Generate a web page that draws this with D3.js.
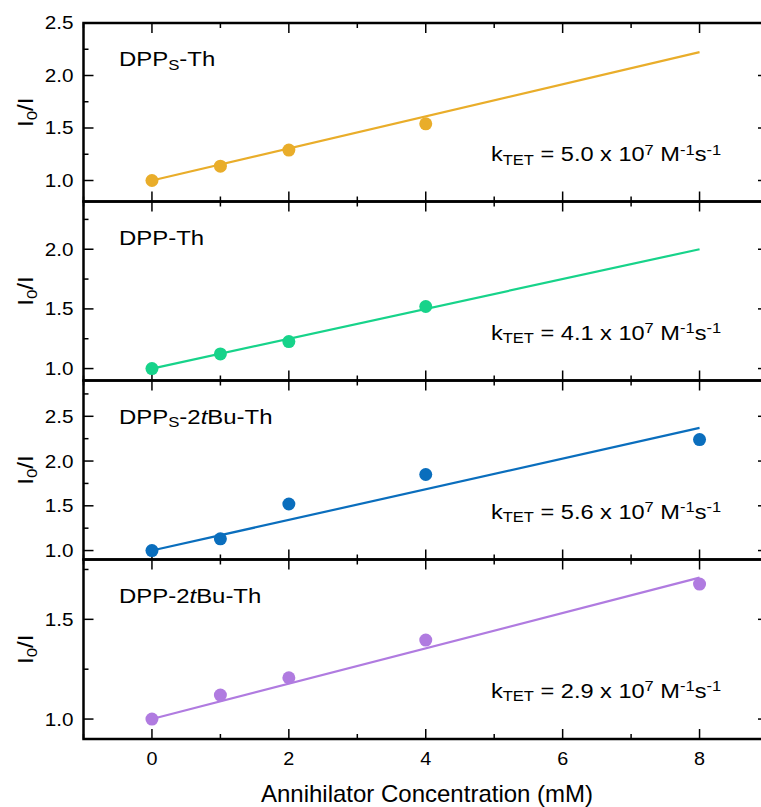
<!DOCTYPE html>
<html>
<head>
<meta charset="utf-8">
<script src="https://cdn.jsdelivr.net/npm/d3@7"></script>
<style>
  body { margin: 0; background: #fff; }
  svg { display: block; font-family: "Liberation Sans", Arial, sans-serif; }
</style>
</head>
<body>
<svg id="chart" width="761" height="807"></svg>
<script>
// annihilator concentration (mM)
const concentrations = [0, 1, 2, 4, 8];
const xTicks = [0, 2, 4, 6, 8];

// I0/I per sample
const dppsTh = [1.0, 1.136, 1.29, 1.54];
const dppTh = [1.0, 1.123, 1.226, 1.52];
const dpps2tBuTh = [1.0, 1.131, 1.52, 1.85, 2.24];
const dpp2tBuTh = [1.0, 1.12, 1.207, 1.396, 1.677];

// linear fit end points (x = 0, x = 8)
const fitDppsTh = [1.0, 2.222];
const fitDppTh = [1.0, 2.0];
const fitDpps2tBuTh = [1.0, 2.37];
const fitDpp2tBuTh = [1.0, 1.709];

const kValues = ["5.0", "4.1", "5.6", "2.9"];
const colors = ["#e9ad2a", "#17d38a", "#0a6ebd", "#b07be0"];

const panels = [
  { name: [["DPP"], ["S", "sub"], ["-Th"]], data: dppsTh, fit: fitDppsTh, domain: [0.8, 2.5], major: [1.0, 1.5, 2.0, 2.5], top: 23, bottom: 201.5 },
  { name: [["DPP-Th"]], data: dppTh, fit: fitDppTh, domain: [0.9, 2.4], major: [1.0, 1.5, 2.0], top: 201.5, bottom: 380.5 },
  { name: [["DPP"], ["S", "sub"], ["-2"], ["t", "it"], ["Bu-Th"]], data: dpps2tBuTh, fit: fitDpps2tBuTh, domain: [0.9, 2.9], major: [1.0, 1.5, 2.0, 2.5], top: 380.5, bottom: 559.5 },
  { name: [["DPP-2"], ["t", "it"], ["Bu-Th"]], data: dpp2tBuTh, fit: fitDpp2tBuTh, domain: [0.9, 1.8], major: [1.0, 1.5], top: 559.5, bottom: 739 }
];

const svg = d3.select("#chart");
const left = 83.5, right = 768;
const x = d3.scaleLinear().domain([-1, 9]).range([left, right]);
const minorX = d3.range(-1, 9.01, 1).filter(v => !xTicks.includes(v));

function richText(sel, parts, size) {
  parts.forEach(([t, kind]) => {
    const ts = sel.append("tspan").text(t);
    if (kind === "sub") ts.attr("font-size", size * 0.7).attr("baseline-shift", "-25%");
    else if (kind === "sup") ts.attr("font-size", size * 0.7).attr("baseline-shift", "45%");
    else if (kind === "it") ts.attr("font-style", "italic");
  });
}

panels.forEach((p, i) => {
  const y = d3.scaleLinear().domain(p.domain).range([p.bottom, p.top]);
  const g = svg.append("g");
  const minorY = d3.range(Math.ceil(p.domain[0] / 0.25) * 0.25, p.domain[1] + 1e-6, 0.25)
    .filter(v => !p.major.some(m => Math.abs(m - v) < 1e-6));

  // ticks, all inward
  const tick = (x1, y1, x2, y2) => g.append("line")
    .attr("x1", x1).attr("y1", y1).attr("x2", x2).attr("y2", y2)
    .attr("stroke", "#000").attr("stroke-width", 1.5);
  xTicks.forEach(v => { tick(x(v), p.top, x(v), p.top + 10); tick(x(v), p.bottom, x(v), p.bottom - 10); });
  minorX.forEach(v => { tick(x(v), p.top, x(v), p.top + 5); tick(x(v), p.bottom, x(v), p.bottom - 5); });
  p.major.forEach(v => { tick(left, y(v), left + 10, y(v)); tick(right, y(v), right - 10, y(v)); });
  minorY.forEach(v => { tick(left, y(v), left + 5, y(v)); tick(right, y(v), right - 5, y(v)); });

  // tick labels (source font is a bit wide, so stretch horizontally)
  g.selectAll(".ylab").data(p.major).join("text")
    .attr("transform", d => `translate(${left - 10},${y(d)}) scale(1.15,1)`)
    .attr("dy", "0.36em")
    .attr("text-anchor", "end").attr("font-size", 18).text(d => d.toFixed(1));

  // frame
  g.append("rect").attr("x", left).attr("y", p.top)
    .attr("width", right - left).attr("height", p.bottom - p.top)
    .attr("fill", "none").attr("stroke", "#000").attr("stroke-width", 2.5);

  // fit line
  g.append("path")
    .datum([0, 8].map((c, j) => [c, p.fit[j]]))
    .attr("d", d3.line().x(d => x(d[0])).y(d => y(d[1])))
    .attr("stroke", colors[i]).attr("stroke-width", 2.2).attr("fill", "none");

  // points
  g.selectAll("circle").data(p.data).join("circle")
    .attr("cx", (d, j) => x(concentrations[j])).attr("cy", d => y(d))
    .attr("r", 6.5).attr("fill", colors[i]);

  // sample name
  richText(g.append("text")
    .attr("transform", `translate(119,${p.top + 43}) scale(1.14,1)`)
    .attr("font-size", 21), p.name, 21);

  // rate constant
  richText(g.append("text")
    .attr("transform", `translate(491,${p.top + 138}) scale(1.15,1)`)
    .attr("font-size", 20.5),
    [["k"], ["TET", "sub"], [" = " + kValues[i] + " x 10"], ["7", "sup"], [" M"], ["-1", "sup"], ["s"], ["-1", "sup"]], 20.5);

  // y axis title
  const yt = g.append("text")
    .attr("transform", `translate(33,${(p.top + p.bottom) / 2}) rotate(-90) scale(1.1,1)`)
    .attr("text-anchor", "middle").attr("font-size", 22);
  richText(yt, [["I"], ["0", "sub"], ["/I"]], 22);
});

// x axis labels under last panel
const lastBottom = panels[panels.length - 1].bottom;
svg.selectAll(".xlab").data(xTicks).join("text")
  .attr("transform", d => `translate(${x(d)},${lastBottom + 26}) scale(1.1,1)`)
  .attr("text-anchor", "middle").attr("font-size", 18).text(d => d);

svg.append("text")
  .attr("x", 427).attr("y", 802)
  .attr("text-anchor", "middle").attr("font-size", 24)
  .text("Annihilator Concentration (mM)");
</script>
</body>
</html>
